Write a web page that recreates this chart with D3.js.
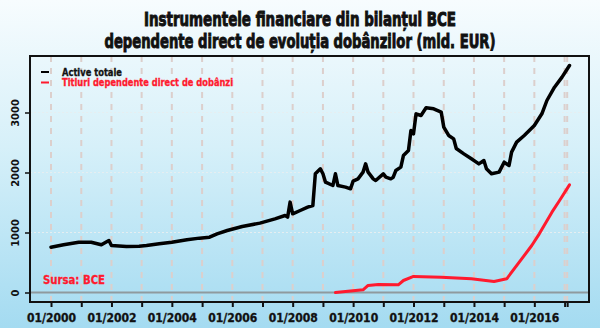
<!DOCTYPE html>
<html>
<head>
<meta charset="utf-8">
<script src="https://cdn.jsdelivr.net/npm/d3@7"></script>
<style>
  html, body { margin: 0; padding: 0; }
  body { width: 600px; height: 328px; overflow: hidden; }
  svg text { font-family: 'Liberation Sans Narrow', 'DejaVu Sans Condensed', 'Roboto', sans-serif; font-weight: bold; }
</style>
</head>
<body>
<div id="chart"></div>
<script>
// Active totale (mld. EUR)
const activeDates = ['2000-01','2000-06','2000-12','2001-05','2001-09','2001-12','2002-01','2002-07','2002-12','2003-03',
  '2003-08','2004-01','2004-07','2004-12','2005-04','2005-07','2005-11','2006-05','2006-12','2007-06',
  '2007-10','2007-11','2007-12','2008-01','2008-04','2008-07','2008-09','2008-10','2008-12','2009-01',
  '2009-02','2009-05','2009-06','2009-07','2009-10','2009-12','2010-01','2010-03','2010-05','2010-06',
  '2010-07','2010-09','2010-10','2011-01','2011-02','2011-04','2011-05','2011-06','2011-08','2011-09',
  '2011-11','2011-12','2012-01','2012-02','2012-04','2012-06','2012-09','2012-12','2013-01','2013-03',
  '2013-05','2013-06','2013-09','2013-12','2014-03','2014-05','2014-06','2014-08','2014-11','2015-01',
  '2015-03','2015-04','2015-06','2015-09','2016-01','2016-04','2016-06','2016-09','2016-12','2017-03'];
const activeValues = [755,795,838,838,795,867,783,767,772,783,
  811,838,878,906,922,978,1033,1100,1156,1228,
  1283,1256,1506,1311,1367,1422,1450,1978,2061,1978,
  1839,1783,1978,1783,1756,1728,1856,1894,2006,2144,
  2006,1894,1867,1978,1922,1894,1922,2033,2089,2283,
  2367,2700,2644,2978,2950,3078,3061,3006,2756,2617,
  2561,2400,2311,2228,2144,2200,2061,1978,2006,2172,
  2117,2339,2506,2617,2783,2978,3200,3422,3589,3783];

// Titluri dependente direct de dobanzi
const titluriDates = ['2009-06','2010-05','2010-07','2010-11','2011-07','2011-09','2012-01','2012-12',
  '2013-12','2014-09','2015-02','2015-12','2016-03','2016-08','2016-11','2017-03'];
const titluriValues = [0,45,117,133,128,200,267,256,228,183,228,783,978,1339,1533,1794];

const yTicks = [0, 1000, 2000, 3000];
const xTickDates = ['2000-01','2001-01','2002-01','2003-01','2004-01','2005-01','2006-01','2007-01','2008-01',
  '2009-01','2010-01','2011-01','2012-01','2013-01','2014-01','2015-01','2016-01','2017-01','2017-02'];
const xLabelYears = [2000, 2002, 2004, 2006, 2008, 2010, 2012, 2014, 2016];

const titleLines = ['Instrumentele financiare din bilanțul BCE', 'dependente direct de evoluția dobânzilor (mld. EUR)'];
const seriesNames = ['Active totale', 'Titluri dependente direct de dobânzi'];
const sourceText = 'Sursa: BCE';

const W = 600, H = 328;
const m = { top: 56, right: 11, bottom: 26, left: 30 };
const w = W - m.left - m.right;
const h = H - m.top - m.bottom;

const parse = d3.timeParse('%Y-%m');

const svg = d3.select('#chart').append('svg')
  .attr('width', W).attr('height', H);

// fundal gradient
const grad = svg.append('defs').append('linearGradient')
  .attr('id', 'bg').attr('x1', 0).attr('y1', 0).attr('x2', 0).attr('y2', 1);
grad.append('stop').attr('offset', '0%').attr('stop-color', '#f7fcfe');
grad.append('stop').attr('offset', '45%').attr('stop-color', '#d6f0f9');
grad.append('stop').attr('offset', '100%').attr('stop-color', '#a4dbf1');
svg.append('rect').attr('width', W).attr('height', H).attr('fill', 'url(#bg)');

// titlu
svg.selectAll('.title').data(titleLines).enter().append('text')
  .attr('x', 300).attr('y', (d, i) => 26 + i * 22)
  .attr('text-anchor', 'middle')
  .attr('font-size', '19px')
  .attr('textLength', (d, i) => i === 0 ? 312 : 391)
  .attr('lengthAdjust', 'spacingAndGlyphs')
  .attr('fill', '#111').attr('stroke', '#111').attr('stroke-width', 0.9)
  .text(d => d);

const g = svg.append('g').attr('transform', `translate(${m.left},${m.top})`);

const x = d3.scaleTime()
  .domain([new Date(1999, 3, 22), new Date(2017, 9, 23)])
  .range([0, w]);
const y = d3.scaleLinear()
  .domain([(h - 236.5) / -0.06, 236.5 / 0.06])
  .range([h, 0]);

// grila orizontala
g.selectAll('.hgrid').data(yTicks.filter(v => v > 0)).enter().append('line')
  .attr('x1', 0).attr('x2', w)
  .attr('y1', d => y(d)).attr('y2', d => y(d))
  .attr('stroke', '#e6eef1').attr('stroke-width', 1)
  .attr('stroke-dasharray', '2,2');

// grila verticala
g.selectAll('.vgrid').data(xTickDates.map(parse)).enter().append('line')
  .attr('x1', d => x(d)).attr('x2', d => x(d))
  .attr('y1', 0).attr('y2', h)
  .attr('stroke', '#dccfcc').attr('stroke-width', 2)
  .attr('stroke-dasharray', '6,6');

// linia zero
g.append('line')
  .attr('x1', 0).attr('x2', w)
  .attr('y1', y(0)).attr('y2', y(0))
  .attr('stroke', '#8f9a9e').attr('stroke-width', 2);

// axe
const xAxis = g.append('g')
  .attr('transform', `translate(0,${h})`)
  .call(d3.axisBottom(x)
    .tickValues(xTickDates.map(parse))
    .tickSize(5).tickPadding(6)
    .tickFormat(d => (d.getMonth() === 0 && xLabelYears.includes(d.getFullYear())) ? d3.timeFormat('%m/%Y')(d) : ''));
xAxis.select('.domain').remove();
xAxis.selectAll('line').attr('stroke', '#111').attr('stroke-width', 2);
xAxis.selectAll('text').attr('font-size', '12px').attr('fill', '#111')
  .attr('stroke', '#111').attr('stroke-width', 0.3)
  .attr('font-family', "'Liberation Sans Narrow', 'DejaVu Sans Condensed', sans-serif");

const yAxis = g.append('g')
  .call(d3.axisLeft(y).tickValues(yTicks).tickSize(5).tickPadding(0).tickFormat(d3.format('d')));
yAxis.select('.domain').remove();
yAxis.selectAll('line').attr('stroke', '#111').attr('stroke-width', 1.5);
yAxis.selectAll('text')
  .attr('font-size', '11px').attr('fill', '#111')
  .attr('font-family', "'Liberation Sans Narrow', 'DejaVu Sans Condensed', sans-serif")
  .attr('text-anchor', 'middle')
  .attr('transform', 'translate(-15,0) rotate(-90)')
  .attr('x', 0).attr('dy', '0.35em');

// liniile
const line = d3.line()
  .x(d => x(d[0]))
  .y(d => y(d[1]));

const activeData = activeDates.map((d, i) => [parse(d), activeValues[i]]);
const titluriData = titluriDates.map((d, i) => [parse(d), titluriValues[i]]);

g.append('path').datum(titluriData)
  .attr('d', line).attr('fill', 'none')
  .attr('stroke', '#ff1a2e').attr('stroke-width', 3)
  .attr('stroke-linejoin', 'round').attr('stroke-linecap', 'round');

g.append('path').datum(activeData)
  .attr('d', line).attr('fill', 'none')
  .attr('stroke', '#000').attr('stroke-width', 3.5)
  .attr('stroke-linejoin', 'round').attr('stroke-linecap', 'round');

// chenar
g.append('rect')
  .attr('width', w).attr('height', h)
  .attr('fill', 'none').attr('stroke', '#111').attr('stroke-width', 2);

// legenda
const colors = ['#000', '#ff1a2e'];
const leg = g.selectAll('.leg').data(seriesNames).enter().append('g')
  .attr('transform', (d, i) => `translate(11,${16 + i * 10.5})`);
leg.append('line')
  .attr('x1', 0).attr('x2', 8)
  .attr('stroke', (d, i) => colors[i]).attr('stroke-width', 2);
leg.append('text')
  .attr('x', 21).attr('dy', '0.35em')
  .attr('font-size', '10px')
  .attr('textLength', (d, i) => i === 0 ? 60 : 171)
  .attr('lengthAdjust', 'spacingAndGlyphs')
  .attr('fill', (d, i) => i === 0 ? '#111' : '#ff1a2e')
  .attr('stroke', (d, i) => i === 0 ? '#111' : '#ff1a2e').attr('stroke-width', 0.3)
  .text(d => d);

// sursa
g.append('text')
  .attr('x', 13).attr('y', 228)
  .attr('font-size', '12px')
  .attr('textLength', 62)
  .attr('lengthAdjust', 'spacingAndGlyphs')
  .attr('fill', '#ff1a2e').attr('stroke', '#ff1a2e').attr('stroke-width', 0.3)
  .text(sourceText);
</script>
</body>
</html>
